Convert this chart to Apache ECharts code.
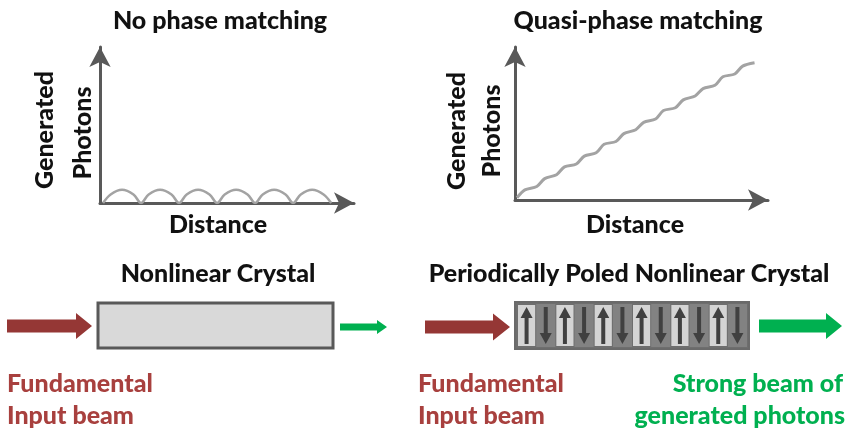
<!DOCTYPE html>
<html><head><meta charset="utf-8">
<script src="https://cdn.jsdelivr.net/npm/echarts@6/dist/echarts.min.js"></script>
<style>html,body{margin:0;padding:0;background:#fff}#c{width:849px;height:435px}</style>
</head><body><div id="c"></div>
<script>
// ---- data ----
const npmX = [0.08,0.28,0.58,0.88,1.08,1.28,1.58,1.88,2.08,2.28,2.58,2.88,3.08,3.28,3.58,3.88,4.08,4.28,4.58,4.88,5.08,5.28,5.58,5.88,6.08];
const npmY = [0,0.55,0.85,0.55,0,0.55,0.85,0.55,0,0.55,0.85,0.55,0,0.55,0.85,0.55,0,0.55,0.85,0.55,0,0.55,0.85,0.55,0];
const qpmX = [0.1,0.5,1.1,1.5,2.1,2.5,3.1,3.5,4.1,4.5,5.1,5.5,6.1,6.5,7.1,7.5,8.1,8.5,9.1,9.5,10.1,10.5,11.1,11.5,12.1];
const qpmY = [0.2,0.9,1.2,1.9,2.25,2.95,3.2,3.9,4.2,4.95,5.2,5.9,6.25,6.9,7.2,7.95,8.2,8.9,9.25,9.9,10.2,10.95,11.2,11.9,12.2];
const domains = ['up','down','up','down','up','down','up','down','up','down','up','down'];
const titles = ['No phase matching','Quasi-phase matching'];
const xName = 'Distance';
const yName = ['Generated','Photons'];
const crystalNames = ['Nonlinear Crystal','Periodically Poled Nonlinear Crystal'];
const inputLabel = ['Fundamental','Input beam'];
const outputLabel = ['Strong beam of','generated photons'];

const FONT = 'Lato';
const RED = '#953735', GREEN = '#00b050', AX = '#595959', LINE = '#a3a3a3';

const chart = echarts.init(document.getElementById('c'));

function axisCommon(max){
  return {type:'value', min:0, max:max,
    axisLine:{show:true, onZero:false, symbol:['none','arrow'], symbolSize:[16,20], lineStyle:{color:AX,width:3}},
    axisTick:{show:false}, axisLabel:{show:false}, splitLine:{show:false}};
}
function hidden(min,max){return {type:'value',min:min,max:max,show:false};}

function arrow(x0,x1,yc,shaft,head,headL,color){
  const xs = x1-headL;
  return {type:'polygon', silent:true, shape:{points:[
    [x0,yc-shaft/2],[xs,yc-shaft/2],[xs,yc-head/2],[x1,yc],[xs,yc+head/2],[xs,yc+shaft/2],[x0,yc+shaft/2]]},
    style:{fill:color}};
}
function txt(x,y,s,opt,rot){
  const g = {type:'text', x:x, y:y, silent:true, style:Object.assign({text:s, font:'900 25px '+FONT, fill:'#111',
    textAlign:'center', textVerticalAlign:'middle'}, opt||{})};
  if(rot) g.rotation = rot;
  return g;
}

chart.setOption({
  animation:false,
  grid:[
    {left:100, top:47, width:254, height:156},
    {left:515, top:47, width:253, height:153},
    {left:517, top:304, width:230, height:43}
  ],
  xAxis:[
    Object.assign(axisCommon(6.68),{gridIndex:0}),
    Object.assign(axisCommon(12.78),{gridIndex:1}),
    Object.assign(hidden(0,12),{gridIndex:2})
  ],
  yAxis:[
    Object.assign(axisCommon(10),{gridIndex:0}),
    Object.assign(axisCommon(13.6),{gridIndex:1}),
    Object.assign(hidden(0,1),{gridIndex:2})
  ],
  series:[
    {type:'line', xAxisIndex:0, yAxisIndex:0, data:npmX.map((x,i)=>[x,npmY[i]]), smooth:0.35,
      symbol:'none', lineStyle:{color:LINE,width:2.5}, z:1},
    {type:'line', xAxisIndex:1, yAxisIndex:1, data:qpmX.map((x,i)=>[x,qpmY[i]]), smooth:0.3,
      symbol:'none', lineStyle:{color:LINE,width:3}, z:1},
    {type:'custom', xAxisIndex:2, yAxisIndex:2, data:domains.map((d,i)=>[i, d==='up'?1:-1]),
      renderItem:function(params, api){
        const i = api.value(0), dir = api.value(1);
        const p0 = api.coord([i,0]), p1 = api.coord([i+1,1]);
        const x = p0[0], w = p1[0]-p0[0], yTop = p1[1], h = p0[1]-p1[1];
        const cx = x + w/2;
        const children = [];
        if(dir>0){
          children.push({type:'rect', shape:{x:x+1,y:yTop+1,width:w-2,height:h-2}, style:{fill:'#d4d4d4'}});
        } else {
          children.push({type:'rect', shape:{x:x,y:yTop,width:w,height:h}, style:{fill:'#828282'}});
        }
        const top = yTop+3, bot = yTop+h-3, hl = 11, hw = 12, sw = 2;
        let pts;
        if(dir>0){
          pts = [[cx,top],[cx+hw/2,top+hl],[cx+sw,top+hl],[cx+sw,bot],[cx-sw,bot],[cx-sw,top+hl],[cx-hw/2,top+hl]];
        } else {
          pts = [[cx,bot],[cx+hw/2,bot-hl],[cx+sw,bot-hl],[cx+sw,top],[cx-sw,top],[cx-sw,bot-hl],[cx-hw/2,bot-hl]];
        }
        children.push({type:'polygon', shape:{points:pts}, style:{fill:'#404040'}});
        return {type:'group', children:children};
      }, z:5}
  ],
  graphic:[
    txt(220,21,titles[0]),
    txt(638,21,titles[1]),
    txt(218,225,xName),
    txt(635,225,xName),
    txt(45,130,yName[0],null,Math.PI/2), txt(83,133,yName[1],null,Math.PI/2),
    txt(457,131,yName[0],null,Math.PI/2), txt(492,131,yName[1],null,Math.PI/2),
    txt(218,274,crystalNames[0]),
    txt(629,274,crystalNames[1]),
    {type:'rect', silent:true, shape:{x:98,y:303,width:235,height:45}, style:{fill:'#d9d9d9',stroke:AX,lineWidth:3}, z:1},
    {type:'rect', silent:true, shape:{x:515,y:302,width:234,height:47}, style:{fill:'#6e6e6e',stroke:'#6a6a6a',lineWidth:2}, z:0},
    arrow(7,92,326,13,26,16,RED),
    arrow(340,387,327,7,14,10,GREEN),
    arrow(425,510,327,13,27,17,RED),
    arrow(759,842,326,13,26,16,GREEN),
    txt(7,384,inputLabel[0],{fill:'#a8403e',textAlign:'left'}),
    txt(7,416,inputLabel[1],{fill:'#a8403e',textAlign:'left'}),
    txt(418,384,inputLabel[0],{fill:'#a8403e',textAlign:'left'}),
    txt(418,416,inputLabel[1],{fill:'#a8403e',textAlign:'left'}),
    txt(843,384,outputLabel[0],{fill:GREEN,textAlign:'right'}),
    txt(845,416,outputLabel[1],{fill:GREEN,textAlign:'right'})
  ]
});
</script></body></html>
